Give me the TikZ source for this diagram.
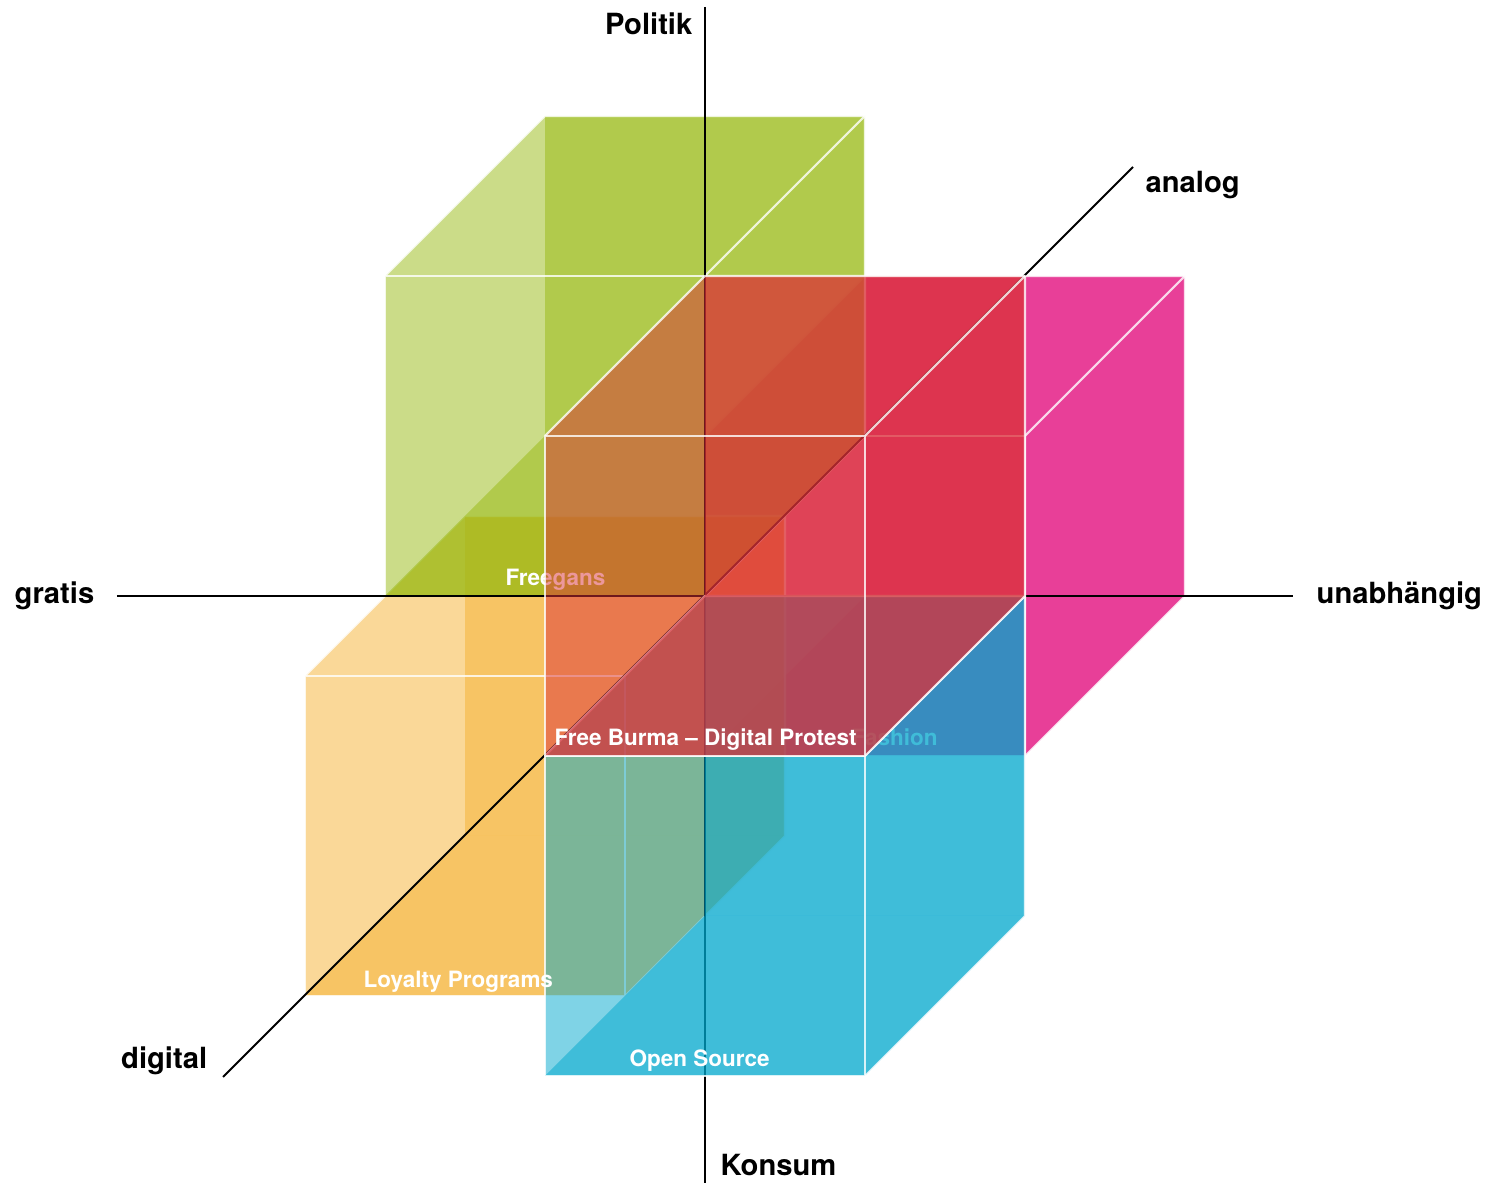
\documentclass[tikz,border=0pt]{standalone}
\usepackage{tikz}
\usepackage{fontspec}
\setmainfont{TeX Gyre Heros}

\definecolor{fashionmag}{RGB}{224,0,118}
\definecolor{loyaltyyel}{RGB}{245,177,49}
\definecolor{freegangreen}{RGB}{151,185,17}
\definecolor{opencyan}{RGB}{0,167,205}
\definecolor{burmared}{RGB}{219,49,56}

% one see-through block, front lower left corner at (#1,#2), colour #3
\newcommand{\drawcube}[3]{%
  \begin{scope}[cubeaxes, shift={(#1,#2,0)}]
    \fill[cubeface, #3] (0,0,0) -- (1,0,0) -- (1,1,0) -- (0,1,0) -- cycle;
    \fill[cubeface, #3] (0,0,1) -- (1,0,1) -- (1,1,1) -- (0,1,1) -- cycle;
    \fill[cubeface, #3] (0,1,0) -- (1,1,0) -- (1,1,1) -- (0,1,1) -- cycle;
    \fill[cubeface, #3] (0,0,0) -- (1,0,0) -- (1,0,1) -- (0,0,1) -- cycle;
    \fill[cubeface, #3] (1,0,0) -- (1,0,1) -- (1,1,1) -- (1,1,0) -- cycle;
    \draw[cubeedge] (0,0,0) -- (1,0,0) -- (1,1,0) -- (0,1,0) -- cycle;
    \draw[cubeedge] (0,1,0) -- (0,1,1) -- (1,1,1) -- (1,0,1) -- (1,0,0);
    \draw[cubeedge] (1,1,0) -- (1,1,1);
  \end{scope}}

\begin{document}
\begin{tikzpicture}[
  cubeaxes/.style={x={(3.2cm,0cm)}, y={(0cm,3.2cm)}, z={(1.6cm,1.6cm)}},
  cubeface/.style={fill opacity=0.5, draw=none},
  cubeedge/.style={draw=white, line width=0.6pt, opacity=0.8, line join=round},
  axisline/.style={draw=black, line width=0.55pt},
  axislabel/.style={font=\fontsize{8.3pt}{10pt}\selectfont\bfseries, inner sep=0pt},
  cubelabel/.style={font=\fontsize{6.4pt}{8pt}\selectfont\bfseries, text=white, inner sep=0pt},
]
\useasboundingbox (-7.05,-5.94) rectangle (7.87,5.96);

% blocks at the back first
\drawcube{0}{-0.5}{fashionmag}
\node[cubelabel, anchor=base west] (fashion) at (1.46,-1.50) {Fashion};

\drawcube{-1.25}{-1.25}{loyaltyyel}
\drawcube{-1}{0}{freegangreen}
\node[cubelabel, anchor=base west] (freegans) at (-2.00,0.10) {Freegans};

% axes
\coordinate (top) at (0,5.89);
\coordinate (bottom) at (0,-5.87);
\coordinate (left) at (-5.88,0);
\coordinate (right) at (5.88,0);
\coordinate (front) at (-4.82,-4.81);
\coordinate (back) at (4.28,4.29);

\draw[axisline] (top) -- (bottom);
\draw[axisline] (left) -- (right);
\draw[axisline] (front) -- (back);

\drawcube{-0.5}{-1.5}{opencyan}
\drawcube{-0.5}{-0.5}{burmared}

\node[cubelabel, anchor=base west] (loyalty) at (-3.42,-3.92) {Loyalty Programs};
\node[cubelabel, anchor=base west] (opensource) at (-0.76,-4.71) {Open Source};
\node[cubelabel, anchor=base west] (burma) at (-1.51,-1.50) {Free Burma – Digital Protest};

\node[axislabel, anchor=base east] (politik) at (-0.12,5.61) {Politik};
\node[axislabel, anchor=base west] (konsum) at (0.15,-5.80) {Konsum};
\node[axislabel, anchor=base east] (gratis) at (-6.10,-0.08) {gratis};
\node[axislabel, anchor=base west] (unabh) at (6.11,-0.08) {unabhängig};
\node[axislabel, anchor=base east] (digital) at (-4.97,-4.73) {digital};
\node[axislabel, anchor=base west] (analog) at (4.40,4.03) {analog};

\end{tikzpicture}
\end{document}
